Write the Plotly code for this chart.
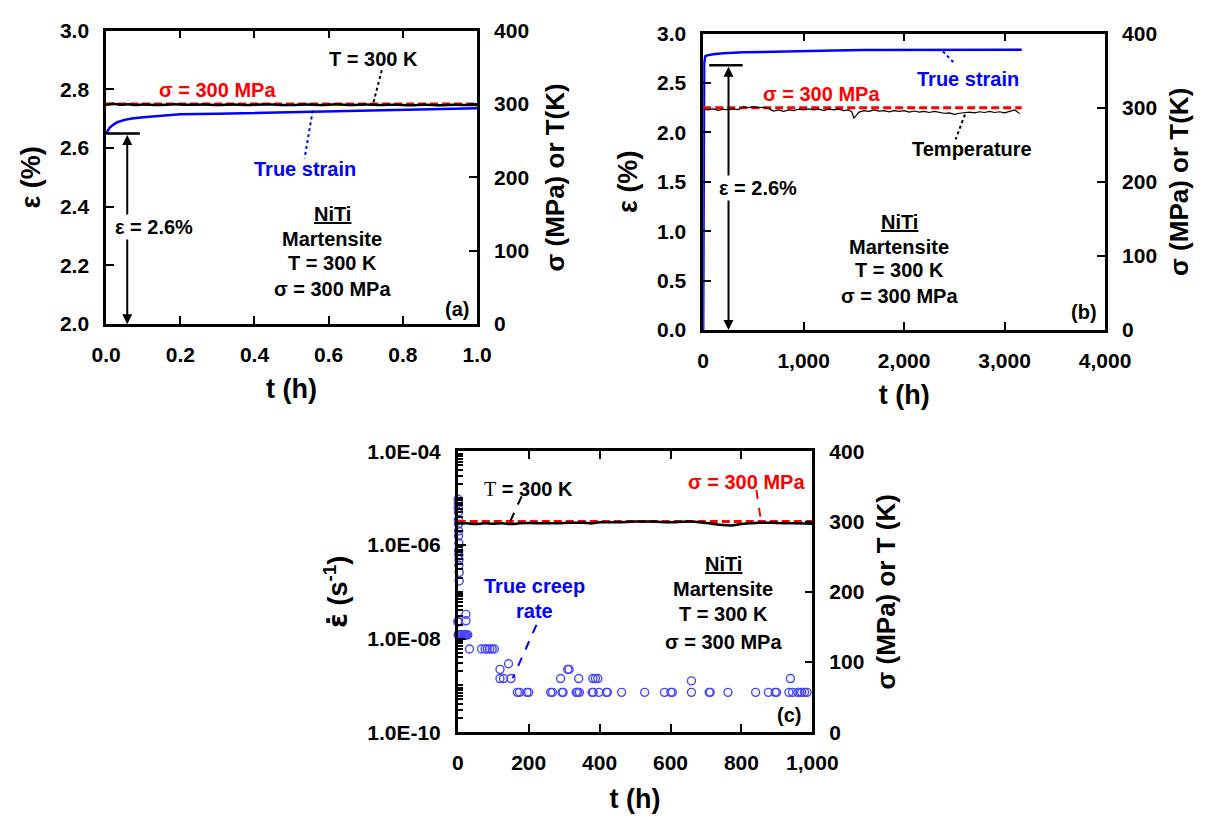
import plotly.graph_objects as go

W, H = 1212, 811          # figure size; page body adds an 8px margin
OFF = 8                   # body margin (screen px)
FONT = "Liberation Sans, Arial, sans-serif"
BLUE = "#0000ff"
RED = "#ff0000"
CIRC = "#4646ff"

# ---------------- Panel (a) data ----------------
t_a_strain = [0, 0.005, 0.01, 0.02, 0.03, 0.05, 0.07, 0.1, 0.15, 0.2, 0.3, 0.4, 0.5, 0.6, 0.7, 0.8, 0.9, 1.0]
strain_a = [2.650, 2.662, 2.670, 2.680, 2.688, 2.696, 2.701, 2.705, 2.711, 2.715, 2.717, 2.720, 2.723,
            2.726, 2.729, 2.731, 2.734, 2.736]
t_a_temp = [0.0, 0.02, 0.04, 0.06, 0.08, 0.1, 0.14, 0.18, 0.22, 0.26, 0.3, 0.34, 0.38, 0.42, 0.46, 0.5,
            0.54, 0.58, 0.62, 0.66, 0.7, 0.74, 0.78, 0.82, 0.86, 0.9, 0.94, 0.98, 1.0]
temp_a = [299.0, 300.3, 298.9, 299.6, 298.7, 299.5, 298.8, 299.6, 298.9, 299.5, 298.6, 299.4, 298.7, 299.5,
          299.0, 298.6, 299.4, 298.8, 299.6, 298.7, 299.3, 298.6, 299.2, 298.5, 299.1, 298.4, 299.0, 298.6, 298.8]
t_a_stress = [0.0, 1.0]
stress_a = [300, 300]

# ---------------- Panel (b) data ----------------
t_b_strain = [0, 3, 6, 10, 20, 40, 100, 200, 400, 600, 800, 1000, 1300, 1600, 2000, 2400, 2800, 3170]
strain_b = [0.0, 1.2, 2.4, 2.70, 2.77, 2.78, 2.79, 2.80, 2.81, 2.815, 2.82, 2.83, 2.83, 2.833, 2.835, 2.837, 2.837, 2.837]
t_b_temp = [0, 50, 100, 150, 200, 250, 300, 350, 400, 450, 500, 550, 600, 650, 700, 750, 800, 850, 900, 950,
            1000, 1050, 1100, 1150, 1200, 1250, 1300, 1350, 1400, 1450, 1480, 1500, 1520, 1550, 1600, 1650,
            1700, 1750, 1800, 1850, 1900, 1950, 2000, 2050, 2100, 2150, 2200, 2250, 2300, 2350, 2400, 2450,
            2500, 2550, 2600, 2650, 2700, 2750, 2800, 2850, 2900, 2950, 3000, 3050, 3100, 3150]
temp_b = [298, 297, 298.5, 296.5, 298, 297, 298.5, 297.5, 301, 300, 301.5, 300, 300.5, 299, 295.5, 297,
          295, 297, 296, 298, 297, 298.5, 297, 298, 296.5, 298, 297, 298, 296, 297, 294, 286, 289, 294,
          296, 295, 297, 295.5, 296, 294.5, 296, 295, 296, 294, 295.5, 294, 295, 293.5, 295, 294, 292.5,
          293, 291, 292.5, 293, 294, 293, 294.5, 293.5, 295, 293.5, 294.5, 293, 295, 297, 292]
t_b_stress = [0, 3170]
stress_b = [300, 300]

# ---------------- Panel (c) data ----------------
t_c_rate = [1, 1.5, 1, 2, 1.5, 2, 2.5, 2, 3, 2.5, 3, 3.5, 3, 4, 4,
            0, 2, 23, 23,
            1, 3, 5, 8, 10, 12, 15, 18, 20, 22, 25, 28,
            33, 67, 77, 83, 90, 97, 103,
            119, 143,
            119, 129, 150, 290, 341, 381, 388, 395, 938,
            310, 314, 659,
            168, 174, 195, 200, 262, 267, 294, 297, 334, 338, 343, 379, 382, 398, 419, 422, 462, 527, 583,
            601, 605, 659, 709, 712, 762, 840, 876, 895, 899, 934, 944, 959, 965, 970, 978, 985]
rate_c = [9.5e-6, 7.8e-6, 6.3e-6, 5.0e-6, 3.5e-6, 2.8e-6, 2.0e-6, 1.55e-6, 1.1e-6, 7.6e-7, 6.2e-7, 4.9e-7,
          3.7e-7, 2.6e-7, 1.7e-7,
          2.3e-8, 2.3e-8, 3.3e-8, 2.4e-8,
          1.2e-8, 1.2e-8, 1.2e-8, 1.2e-8, 1.2e-8, 1.2e-8, 1.2e-8, 1.2e-8, 1.2e-8, 1.2e-8, 1.2e-8, 1.2e-8,
          6.0e-9, 6.0e-9, 6.0e-9, 6.0e-9, 6.0e-9, 6.0e-9, 6.0e-9,
          2.2e-9, 2.9e-9,
          1.4e-9, 1.4e-9, 1.4e-9, 1.4e-9, 1.4e-9, 1.4e-9, 1.4e-9, 1.4e-9, 1.4e-9,
          2.2e-9, 2.2e-9, 1.25e-9,
          7.1e-10, 7.1e-10, 7.1e-10, 7.1e-10, 7.1e-10, 7.1e-10, 7.1e-10, 7.1e-10, 7.1e-10, 7.1e-10, 7.1e-10,
          7.1e-10, 7.1e-10, 7.1e-10, 7.1e-10, 7.1e-10, 7.1e-10, 7.1e-10, 7.1e-10, 7.1e-10, 7.1e-10, 7.1e-10,
          7.1e-10, 7.1e-10, 7.1e-10, 7.1e-10, 7.1e-10, 7.1e-10, 7.1e-10, 7.1e-10, 7.1e-10, 7.1e-10, 7.1e-10,
          7.1e-10, 7.1e-10, 7.1e-10]
t_c_temp = [0, 25, 50, 75, 100, 125, 150, 175, 200, 250, 300, 350, 380, 400, 450, 500, 550, 600, 650, 700,
            740, 770, 800, 850, 900, 950, 1000]
temp_c = [297, 297.5, 296.5, 297.5, 297, 297.5, 296.5, 297.5, 298, 297.5, 298, 298.5, 297.5, 299, 299, 300,
          300, 299, 300, 298, 295.5, 294.5, 296.5, 298.5, 298, 297.5, 297]
t_c_stress = [0, 1000]
stress_c = [300, 300]

rate_ticks = [1e-10, 1e-8, 1e-6, 1e-4]
rate_ticktext = ["1.0E-10", "1.0E-08", "1.0E-06", "1.0E-04"]

# ---------------- layout helpers (screen pixel boxes) ----------------
def xdom(x0, x1):
    return [(x0 - OFF) / W, (x1 - OFF) / W]

def ydom(top, bottom):
    return [1 - (bottom - OFF) / H, 1 - (top - OFF) / H]

TICKFONT = dict(family=FONT, size=21, color="black", weight="bold")
TITLEFONT = dict(family=FONT, size=27, color="black", weight="bold")
RTITLEFONT = dict(family=FONT, size=26, color="black", weight="bold")

def base_axis(**kw):
    d = dict(showline=True, linewidth=2.5, linecolor="black", ticks="inside", ticklen=8, tickwidth=2,
             tickcolor="black", showgrid=False, zeroline=False, tickfont=TICKFONT,
             ticklabelstandoff=10)
    d.update(kw)
    return d

fig = go.Figure()

# Panel (a)
fig.add_trace(go.Scatter(x=t_a_stress, y=stress_a, mode="lines", xaxis="x", yaxis="y2",
                         line=dict(color=RED, width=3, dash="8px,4px")))
fig.add_trace(go.Scatter(x=t_a_temp, y=temp_a, mode="lines", xaxis="x", yaxis="y2",
                         line=dict(color="black", width=2.5, shape="spline")))
fig.add_trace(go.Scatter(x=t_a_strain, y=strain_a, mode="lines", xaxis="x", yaxis="y",
                         line=dict(color=BLUE, width=2.5)))
# Panel (b)
fig.add_trace(go.Scatter(x=t_b_stress, y=stress_b, mode="lines", xaxis="x2", yaxis="y4",
                         line=dict(color=RED, width=3, dash="8px,4px")))
fig.add_trace(go.Scatter(x=t_b_temp, y=temp_b, mode="lines", xaxis="x2", yaxis="y4",
                         line=dict(color="black", width=1.2)))
fig.add_trace(go.Scatter(x=t_b_strain, y=strain_b, mode="lines", xaxis="x2", yaxis="y3",
                         line=dict(color=BLUE, width=2.5)))
# Panel (c)
fig.add_trace(go.Scatter(x=t_c_stress, y=stress_c, mode="lines", xaxis="x3", yaxis="y6",
                         line=dict(color=RED, width=3, dash="8px,4px")))
fig.add_trace(go.Scatter(x=t_c_temp, y=temp_c, mode="lines", xaxis="x3", yaxis="y6",
                         line=dict(color="black", width=2.5, shape="spline")))
fig.add_trace(go.Scatter(x=t_c_rate, y=rate_c, mode="markers", xaxis="x3", yaxis="y5", cliponaxis=False,
                         marker=dict(symbol="circle-open", size=8, color=CIRC, line=dict(width=1.4))))

A = dict(x=xdom(94, 478), y=ydom(19, 321))
B = dict(x=xdom(712, 1128), y=ydom(22, 327))
C = dict(x=xdom(458, 825), y=ydom(452, 741))

EPS_DOT = "<span style='font-family:DejaVu Sans'>ε̇</span>"

layout = dict(
    width=W, height=H, margin=dict(l=0, r=0, t=0, b=0), showlegend=False,
    plot_bgcolor="white", paper_bgcolor="white", font=dict(family=FONT, color="black"),
    xaxis=base_axis(domain=A["x"], anchor="y", range=[0, 1], dtick=0.2, tickformat=".1f", mirror="ticks",
                    title=dict(text="<b>t (h)</b>", font=TITLEFONT, standoff=15)),
    yaxis=base_axis(domain=A["y"], anchor="x", range=[2.0, 3.0], dtick=0.2, tickformat=".1f",
                    title=dict(text="<b>ε (%)</b>", font=TITLEFONT, standoff=12)),
    yaxis2=base_axis(overlaying="y", anchor="x", side="right", range=[0, 400], dtick=100,
                     title=dict(text="<b>σ (MPa) or T(K)</b>", font=RTITLEFONT, standoff=18)),
    xaxis2=base_axis(domain=B["x"], anchor="y3", range=[0, 4000], dtick=1000, tickformat=",d", mirror="ticks",
                     title=dict(text="<b>t (h)</b>", font=TITLEFONT, standoff=15)),
    yaxis3=base_axis(domain=B["y"], anchor="x2", range=[0, 3.0], dtick=0.5, tickformat=".1f",
                     title=dict(text="<b>ε (%)</b>", font=TITLEFONT, standoff=12)),
    yaxis4=base_axis(overlaying="y3", anchor="x2", side="right", range=[0, 400], dtick=100,
                     title=dict(text="<b>σ (MPa) or T(K)</b>", font=RTITLEFONT, standoff=14)),
    xaxis3=base_axis(domain=C["x"], anchor="y5", range=[0, 1000], dtick=200, tickformat=",d", mirror="ticks",
                     title=dict(text="<b>t (h)</b>", font=TITLEFONT, standoff=16)),
    yaxis5=base_axis(domain=C["y"], anchor="x3", type="log", range=[-10, -4], tickmode="array",
                     tickvals=rate_ticks, ticktext=rate_ticktext,
                     minor=dict(ticks="inside", ticklen=5, tickwidth=1.5, tickcolor="black", dtick="D1"),
                     title=dict(text="<b>" + EPS_DOT + " (s<sup>-1</sup>)</b>", font=TITLEFONT, standoff=12)),
    yaxis6=base_axis(overlaying="y5", anchor="x3", side="right", range=[0, 400], dtick=100,
                     title=dict(text="<b>σ (MPa) or T (K)</b>", font=RTITLEFONT, standoff=14)),
)
fig.update_layout(**layout)

ANN_SIZE = 20

def note(text, x, y, xr, yr, color="black", size=ANN_SIZE, **kw):
    fig.add_annotation(text=text, x=x, y=y, xref=xr, yref=yr, showarrow=False,
                       font=dict(family=FONT, size=size, color=color), **kw)

def leader(x0, y0, x1, y1, xr, yr, color, dash):
    fig.add_shape(type="line", x0=x0, y0=y0, x1=x1, y1=y1, xref=xr, yref=yr,
                  line=dict(color=color, width=2, dash=dash))

def dbl_arrow(x, y_top, y_bot, xr, yr):
    fig.add_annotation(x=x, y=y_bot, ax=x, ay=y_top, xref=xr, yref=yr, axref=xr, ayref=yr, text="",
                       showarrow=True, arrowhead=2, arrowside="end+start", arrowwidth=2, arrowsize=1,
                       arrowcolor="black")

# ---- panel (a) notes ----
fig.add_shape(type="line", x0=0, x1=0.091, y0=2.65, y1=2.65, xref="x", yref="y", line=dict(color="black", width=2.5))
dbl_arrow(0.057, 2.65, 2.0, "x", "y")
note("<b>ε = 2.6%</b>", 0.13, 2.33, "x", "y", bgcolor="white", borderpad=1)
note("<b>T = 300 K</b>", 0.72, 2.905, "x", "y")
leader(0.743, 2.865, 0.72, 2.752, "x", "y", "black", "dot")
note("<b>σ = 300 MPa</b>", 0.30, 2.797, "x", "y", color=RED)
note("<b>True strain</b>", 0.535, 2.53, "x", "y", color=BLUE)
leader(0.557, 2.728, 0.535, 2.565, "x", "y", BLUE, "dot")
for txt, yy in [("<b><u>NiTi</u></b>", 2.374), ("<b>Martensite</b>", 2.291), ("<b>T = 300 K</b>", 2.209),
                ("<b>σ = 300 MPa</b>", 2.119)]:
    note(txt, 0.61, yy, "x", "y")
note("<b>(a)</b>", 0.947, 2.05, "x", "y")

# ---- panel (b) notes ----
fig.add_shape(type="line", x0=60, x1=393, y0=2.68, y1=2.68, xref="x2", yref="y3", line=dict(color="black", width=2.5))
dbl_arrow(252, 2.68, 0.0, "x2", "y3")
note("<b>ε = 2.6%</b>", 541, 1.44, "x2", "y3", bgcolor="white", borderpad=1)
note("<b>True strain</b>", 2640, 2.54, "x2", "y3", color=BLUE)
leader(2385, 2.82, 2510, 2.69, "x2", "y3", BLUE, "dot")
note("<b>σ = 300 MPa</b>", 1180, 2.39, "x2", "y3", color=RED)
note("<b>Temperature</b>", 2680, 1.835, "x2", "y3")
leader(2605, 2.18, 2513, 1.93, "x2", "y3", "black", "dot")
for txt, yy in [("<b><u>NiTi</u></b>", 1.09), ("<b>Martensite</b>", 0.844), ("<b>T = 300 K</b>", 0.604),
                ("<b>σ = 300 MPa</b>", 0.342)]:
    note(txt, 1950, yy, "x2", "y3")
note("<b>(b)</b>", 3788, 0.177, "x2", "y3")

# ---- panel (c) notes ----
note("<span style='font-family:Liberation Serif'>T</span><b> = 300 K</b>", 200, 347, "x3", "y6")
leader(180, 336, 145, 297, "x3", "y6", "black", "dash")
note("<b>σ = 300 MPa</b>", 815, 356, "x3", "y6", color=RED)
leader(842, 345, 855, 301, "x3", "y6", RED, "dash")
note("<b>True creep</b>", 215, 208, "x3", "y6", color=BLUE)
note("<b>rate</b>", 215, 172, "x3", "y6", color=BLUE)
leader(222, 153, 155, 77, "x3", "y6", BLUE, "dash")
for txt, yy in [("<b><u>NiTi</u></b>", 240), ("<b>Martensite</b>", 203.4), ("<b>T = 300 K</b>", 168.5),
                ("<b>σ = 300 MPa</b>", 129)]:
    note(txt, 748, yy, "x3", "y6")
note("<b>(c)</b>", 934, 24, "x3", "y6")

fig.write_html("out.html")
